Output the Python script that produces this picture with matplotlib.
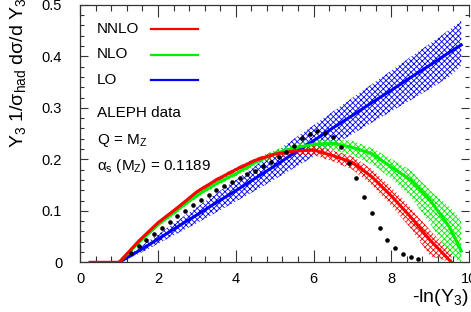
import matplotlib
matplotlib.use("Agg")
import matplotlib.pyplot as plt
from matplotlib.lines import Line2D
from matplotlib.ticker import MultipleLocator, FuncFormatter

plt.rcParams["font.family"] = ["Liberation Sans", "DejaVu Sans"]
plt.rcParams["mathtext.fontset"] = "custom"
plt.rcParams["mathtext.rm"] = "Liberation Sans"
plt.rcParams["mathtext.it"] = "Liberation Sans:italic"
plt.rcParams["hatch.linewidth"] = 0.6

# ALEPH data points
data_x = [1.3, 1.5, 1.7, 1.9, 2.1, 2.3, 2.5, 2.7, 2.9, 3.1, 3.3, 3.5, 3.7, 3.9,
          4.1, 4.3, 4.5, 4.7, 4.9, 5.1, 5.3, 5.5, 5.7, 5.9, 6.1, 6.3, 6.5, 6.7,
          6.9, 7.1, 7.3, 7.5, 7.7, 7.9, 8.1, 8.3, 8.5, 8.7]
data_y = [0.019, 0.031, 0.043, 0.055, 0.067, 0.078, 0.090, 0.100, 0.111, 0.121,
          0.130, 0.140, 0.148, 0.156, 0.163, 0.171, 0.178, 0.187, 0.194, 0.204,
          0.215, 0.226, 0.241, 0.250, 0.254, 0.252, 0.244, 0.224, 0.193, 0.163,
          0.127, 0.096, 0.067, 0.044, 0.027, 0.016, 0.010, 0.006]

# NNLO
nnlo_x = [0.25, 1.0, 1.5, 2.0, 2.5, 3.0, 3.5, 4.0, 4.5, 5.0, 5.5, 6.0, 6.5,
          7.0, 7.5, 8.0, 8.5, 9.0, 9.55]
nnlo_y = [0.0, 0.0, 0.041, 0.077, 0.106, 0.137, 0.160, 0.180, 0.198, 0.210,
          0.216, 0.218, 0.207, 0.194, 0.166, 0.129, 0.088, 0.043, 0.0]
nnlo_lo = [0.0, 0.0, 0.039, 0.074, 0.103, 0.133, 0.156, 0.176, 0.193, 0.203,
           0.208, 0.208, 0.196, 0.180, 0.150, 0.110, 0.066, 0.012, 0.0]
nnlo_hi = [0.0, 0.0, 0.043, 0.080, 0.109, 0.140, 0.164, 0.184, 0.202, 0.215,
           0.222, 0.226, 0.217, 0.206, 0.181, 0.146, 0.106, 0.062, 0.018]

# NLO
nlo_x = [1.0, 1.5, 2.0, 2.5, 3.0, 3.5, 4.0, 4.5, 5.0, 5.5, 6.0, 6.5, 7.0,
         7.5, 8.0, 8.5, 9.0, 9.5, 9.8]
nlo_y = [0.0, 0.038, 0.073, 0.102, 0.130, 0.153, 0.172, 0.194, 0.211, 0.222,
         0.229, 0.231, 0.223, 0.211, 0.185, 0.160, 0.121, 0.068, 0.022]
nlo_lo = [0.0, 0.035, 0.069, 0.097, 0.125, 0.148, 0.167, 0.188, 0.204, 0.214,
          0.219, 0.218, 0.208, 0.190, 0.163, 0.127, 0.075, 0.015, 0.0]
nlo_hi = [0.0, 0.041, 0.077, 0.107, 0.135, 0.158, 0.178, 0.200, 0.218, 0.230,
          0.237, 0.239, 0.236, 0.222, 0.201, 0.179, 0.140, 0.108, 0.082]

# LO
lo_x = [1.0, 1.5, 2.0, 2.5, 3.0, 3.5, 4.0, 4.5, 5.0, 5.5, 6.0, 6.5, 7.0,
        7.5, 8.0, 8.5, 9.0, 9.5, 9.8]
lo_y = [0.0, 0.022, 0.045, 0.069, 0.092, 0.116, 0.139, 0.163, 0.187, 0.212,
        0.236, 0.261, 0.285, 0.310, 0.334, 0.359, 0.383, 0.408, 0.422]
lo_lo = [0.0, 0.016, 0.036, 0.056, 0.076, 0.097, 0.118, 0.139, 0.161, 0.183,
         0.205, 0.227, 0.249, 0.271, 0.293, 0.315, 0.337, 0.360, 0.382]
lo_hi = [0.0, 0.028, 0.054, 0.081, 0.107, 0.134, 0.160, 0.187, 0.213, 0.240,
         0.266, 0.293, 0.319, 0.346, 0.372, 0.399, 0.425, 0.452, 0.469]

RED, GREEN, BLUE = "#ff0000", "#00ee00", "#0000ff"

fig = plt.figure(figsize=(4.71, 3.12), dpi=100)
W, H = 471, 312
ax = fig.add_axes([80.3 / W, 1 - 262.3 / H, (469 - 80.3) / W, (262.3 - 4.8) / H])

for x, lo, hi, c in [(lo_x, lo_lo, lo_hi, BLUE), (nlo_x, nlo_lo, nlo_hi, GREEN),
                     (nnlo_x, nnlo_lo, nnlo_hi, RED)]:
    ax.fill_between(x, lo, hi, facecolor="none", edgecolor=c, hatch="xxxxxx", linewidth=0)

ax.plot(lo_x, lo_y, color=BLUE, lw=2.2)
ax.plot(nlo_x, nlo_y, color=GREEN, lw=2.2)
ax.plot(nnlo_x, nnlo_y, color=RED, lw=2.2)
ax.plot(data_x, data_y, "o", color="black", ms=3.3, mec="none")

ax.set_xlim(0, 10)
ax.set_ylim(0, 0.5)
ax.xaxis.set_major_locator(MultipleLocator(2))
ax.xaxis.set_minor_locator(MultipleLocator(0.4))
ax.yaxis.set_major_locator(MultipleLocator(0.1))
ax.yaxis.set_minor_locator(MultipleLocator(0.02))
fmt = FuncFormatter(lambda v, p: f"{v:g}")
ax.xaxis.set_major_formatter(fmt)
ax.yaxis.set_major_formatter(fmt)

ax.spines["right"].set_visible(False)
for s in ["left", "bottom", "top"]:
    ax.spines[s].set_linewidth(0.9)
    ax.spines[s].set_color("#333333")
ax.tick_params(axis="x", which="both", direction="in", top=True, colors="#333333",
               labelcolor="black", labelsize=10.5, pad=7)
ax.tick_params(axis="x", which="major", length=8.5, width=0.8)
ax.tick_params(axis="x", which="minor", length=4.3, width=0.8)
ax.tick_params(axis="y", which="both", direction="in", right=True, colors="#333333",
               labelcolor="black", labelsize=10.5, pad=13)
ax.tick_params(axis="y", which="major", length=6, width=0.8)
ax.tick_params(axis="y", which="minor", length=3, width=0.8)

ax.set_xlabel("-ln(Y$_3$)", fontsize=14, ha="right", va="top")
ax.xaxis.set_label_coords(1.0, -0.095)
ax.set_ylabel("Y$_3$ 1/σ$_{\\rm had}$ dσ/d Y$_3$", fontsize=14, ha="right")
ax.yaxis.set_label_coords(-0.135, 1.03)

# legend block
fs = 11
for label, c, py in [("NNLO", RED, 29.3), ("NLO", GREEN, 54.5), ("LO", BLUE, 80.2)]:
    fig.text(96.7 / W, 1 - py / H, label, fontsize=fs, va="center", ha="left")
    fig.add_artist(Line2D([151 / W, 197.5 / W], [1 - py / H, 1 - py / H],
                          color=c, lw=1.6, transform=fig.transFigure))
fig.text(96.7 / W, 1 - 112.5 / H, "ALEPH data", fontsize=fs, va="center", ha="left")
fig.text(96.7 / W, 1 - 141 / H, "Q = M$_{\\rm Z}$", fontsize=fs, va="center", ha="left")
fig.text(96.7 / W, 1 - 166 / H, "α$_{\\rm s}$ (M$_{\\rm Z}$) = 0.1189", fontsize=fs,
         va="center", ha="left")

fig.savefig("out.png", dpi=100)
